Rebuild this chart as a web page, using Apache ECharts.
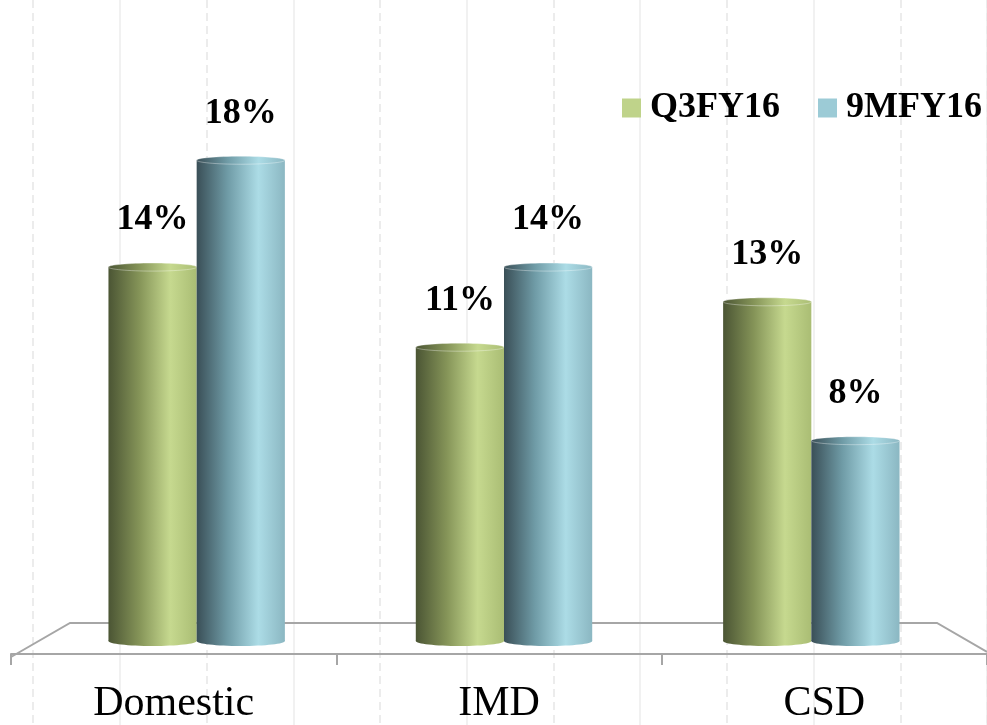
<!DOCTYPE html>
<html>
<head>
<meta charset="utf-8">
<script src="https://cdn.jsdelivr.net/npm/echarts@6/dist/echarts.min.js"></script>
<style>
  html, body { margin: 0; padding: 0; background: #fff; }
  #chart { width: 987px; height: 725px; }
</style>
</head>
<body>
<div id="chart"></div>
<script>
const categories = ['Domestic', 'IMD', 'CSD']
const q3fy16 = [14, 11, 12.7]
const nineMfy16 = [18, 14, 7.5]
const seriesNames = ['Q3FY16', '9MFY16']

const serif = '"Liberation Serif", "Times New Roman", serif'

const greenSide = ['#4b5534', '#859458', '#c6d98f', '#aabd74']
const blueSide = ['#3a4f57', '#6f9ba6', '#acdce6', '#8bb7c2']

function grad(c) {
  return {
    type: 'linear', x: 0, y: 0, x2: 1, y2: 0,
    colorStops: [
      { offset: 0, color: c[0] },
      { offset: 0.35, color: c[1] },
      { offset: 0.7, color: c[2] },
      { offset: 1, color: c[3] }
    ]
  }
}

// one cylinder per data item, shift -1 = left of category, +1 = right
function cylinder(side, shift) {
  return function(params, api) {
    const idx = api.value(0)
    const val = api.value(1)
    const top = api.coord([idx, val])
    const base = api.coord([idx, 0])
    const w = api.size([1, 0])[0] * 0.287
    const cx = top[0] + shift * w / 2
    const x = cx - w / 2
    return {
      type: 'group',
      children: [
        { type: 'ellipse', shape: { cx: cx, cy: base[1], rx: w / 2, ry: 5 }, style: { fill: grad(side) } },
        { type: 'rect', shape: { x: x, y: top[1], width: w, height: base[1] - top[1] }, style: { fill: grad(side) } },
        { type: 'ellipse', shape: { cx: cx, cy: top[1], rx: w / 2, ry: 4 },
          style: { fill: grad(side), stroke: 'rgba(255,255,255,0.35)', lineWidth: 1 } },
        { type: 'text', x: cx, y: top[1] - 47,
          style: { text: Math.round(val) + '%', font: 'bold 36px ' + serif, fill: '#000', align: 'center', verticalAlign: 'middle' } }
      ]
    }
  }
}

const chart = echarts.init(document.getElementById('chart'))

chart.setOption({
  animation: false,
  backgroundColor: '#fff',
  legend: {
    data: seriesNames,
    orient: 'horizontal',
    left: 622,
    top: 90,
    width: 365,
    padding: 0,
    icon: 'rect',
    itemWidth: 19,
    itemHeight: 19,
    itemGap: 38,
    textStyle: { fontFamily: serif, fontWeight: 'bold', fontSize: 36, color: '#000', padding: [0, 0, 0, 4] }
  },
  graphic: [{
    type: 'polyline',
    z: 1,
    shape: { points: [[11, 657], [70, 623], [937, 623], [987, 652]] },
    style: { stroke: '#a6a6a6', lineWidth: 2, fill: null }
  }],
  grid: [
    { left: 11, right: -14, top: 0, bottom: 68 },
    { left: 43, right: 22, top: 0, bottom: 84 },
    { left: 33, right: 0, top: 0, bottom: 0 },
    { left: 120, right: 0, top: 0, bottom: 0 }
  ],
  xAxis: [
    {
      gridIndex: 0,
      type: 'category',
      data: categories,
      axisLine: { show: true, lineStyle: { color: '#a6a6a6', width: 2 } },
      axisTick: { show: true, inside: false, length: 11, lineStyle: { color: '#a6a6a6', width: 2 } },
      axisLabel: { fontFamily: serif, fontSize: 42, color: '#000', margin: 29 }
    },
    { gridIndex: 1, type: 'category', data: categories, show: false },
    {
      gridIndex: 2, type: 'value', min: 0, max: 11, interval: 2,
      axisLine: { show: false }, axisTick: { show: false }, axisLabel: { show: false },
      splitLine: { show: true, lineStyle: { color: '#e6e6e6', width: 1.5, type: [8, 5] } }
    },
    {
      gridIndex: 3, type: 'value', min: 0, max: 10, interval: 2,
      axisLine: { show: false }, axisTick: { show: false }, axisLabel: { show: false },
      splitLine: { show: true, lineStyle: { color: '#ececec', width: 1.5 } }
    }
  ],
  yAxis: [
    { gridIndex: 0, type: 'value', show: false },
    { gridIndex: 1, type: 'value', min: 0, max: 24, show: false },
    { gridIndex: 2, type: 'value', show: false },
    { gridIndex: 3, type: 'value', show: false }
  ],
  series: [
    {
      name: seriesNames[0],
      type: 'custom',
      xAxisIndex: 1,
      yAxisIndex: 1,
      z: 3,
      itemStyle: { color: '#bfd38a' },
      renderItem: cylinder(greenSide, -1),
      encode: { x: 0, y: 1 },
      data: categories.map((c, i) => [i, q3fy16[i]])
    },
    {
      name: seriesNames[1],
      type: 'custom',
      xAxisIndex: 1,
      yAxisIndex: 1,
      z: 4,
      itemStyle: { color: '#9ccbd6' },
      renderItem: cylinder(blueSide, 1),
      encode: { x: 0, y: 1 },
      data: categories.map((c, i) => [i, nineMfy16[i]])
    }
  ]
})
</script>
</body>
</html>
